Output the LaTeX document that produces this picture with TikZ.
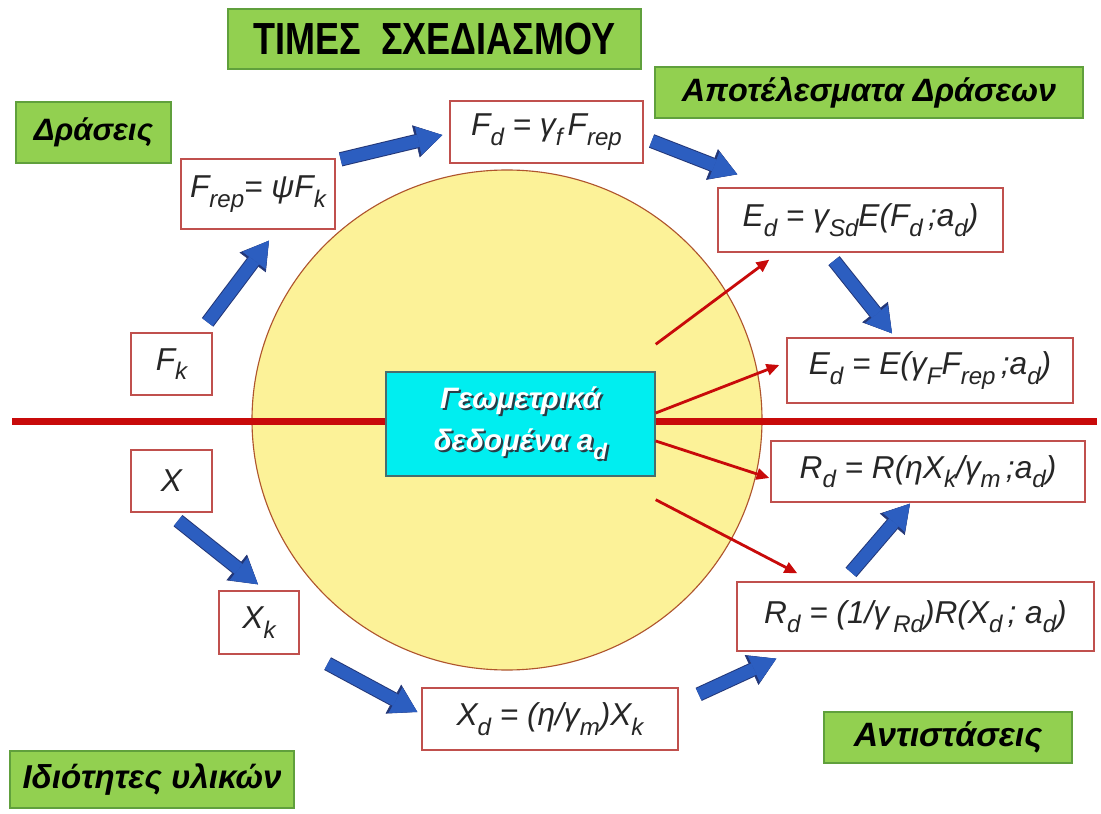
\documentclass[tikz,border=0pt]{standalone}
\usepackage{fontspec}
\usepackage{graphicx}
\setmainfont{Liberation Sans}
\newfontfamily\narrowfont[FakeStretch=0.8]{Liberation Sans}
\usetikzlibrary{arrows.meta,calc}

\definecolor{tagGreen}{RGB}{146,208,80}
\definecolor{tagEdge}{RGB}{96,160,60}
\definecolor{boxEdge}{RGB}{192,80,77}
\definecolor{ringFill}{RGB}{252,242,152}
\definecolor{ringEdge}{RGB}{175,85,45}
\definecolor{geoFill}{RGB}{0,238,240}
\definecolor{geoEdge}{RGB}{70,110,110}
\definecolor{geoShade}{RGB}{40,60,70}
\definecolor{flowBlue}{RGB}{44,94,192}
\definecolor{flowEdge}{RGB}{35,55,120}
\definecolor{axisRed}{RGB}{200,10,10}

\newcommand\lo[1]{\raisebox{-0.3em}{\scalebox{0.76}{#1}}}
\newcommand\geotext[1]{\makebox[0pt][l]{\kern1.5pt\raisebox{-1.5pt}{\textcolor{geoShade}{#1}}}#1}

\begin{document}
\begin{tikzpicture}[x=0.025cm, y=-0.025cm,
  tag/.style={rectangle, draw=tagEdge, line width=1.2pt, fill=tagGreen, inner sep=0pt, font=\fontsize{23}{27}\selectfont\bfseries\itshape},
  formula/.style={rectangle, draw=boxEdge, line width=0.9pt, fill=white, inner sep=0pt, text=black!85, font=\fontsize{22.5}{26}\selectfont\itshape},
  geo/.style={rectangle, draw=geoEdge, line width=1pt, fill=geoFill, inner sep=0pt, align=center, text=white, font=\fontsize{21}{30}\selectfont\bfseries\itshape},
  flow/.style={draw=flowBlue, line width=0.31cm, -{Triangle[length=0.62cm, width=0.72cm, line width=0.4pt]},
    preaction={draw=flowEdge, line width=0.36cm, -{Triangle[length=0.68cm, width=0.82cm, line width=0.4pt]}}},
  ray/.style={draw=axisRed, line width=2pt, -{Triangle[length=0.32cm, width=0.28cm]}},
  axis/.style={draw=axisRed, line width=0.18cm},
]
\useasboundingbox[fill=white] (0,0) rectangle (1101,814);

% ring and axis
\draw[fill=ringFill, draw=ringEdge, line width=0.8pt] (507,420) ellipse [x radius=255, y radius=250];
\coordinate (axisL) at (12,421.5);
\coordinate (axisR) at (1097,421.5);
\draw[axis] (axisL) -- (axisR);
\node[geo, minimum width=6.725cm, minimum height=2.6cm] (geo) at (520.5,424) {\geotext{Γεωμετρικά}\\\geotext{δεδομένα a\lo{d}}};

% values
\node[formula, minimum width=2.025cm, minimum height=1.55cm] (Fk) at (171.5,364) {F\lo{k}};
\node[formula, minimum width=3.85cm, minimum height=1.75cm] (Frep) at (258,194) {F\lo{rep}= ψF\lo{k}};
\node[formula, minimum width=4.825cm, minimum height=1.55cm] (Fd) at (546.5,132) {F\lo{d} = γ\lo{f}\,F\lo{rep}};
\node[formula, minimum width=7.125cm, minimum height=1.6cm] (Ed1) at (860.5,220) {E\lo{d} = γ\lo{Sd}E(F\lo{d}\,;a\lo{d})};
\node[formula, minimum width=7.15cm, minimum height=1.625cm] (Ed2) at (930,370.5) {E\lo{d} = E(γ\lo{F}F\lo{rep}\,;a\lo{d})};
\node[formula, minimum width=7.85cm, minimum height=1.525cm] (Rd1) at (928,471.5) {R\lo{d} = R(ηX\lo{k}/γ\lo{m}\,;a\lo{d})};
\node[formula, minimum width=8.925cm, minimum height=1.725cm] (Rd2) at (915.5,616.5) {R\lo{d} = (1/γ\lo{\,Rd})R(X\lo{d}\,; a\lo{d})};
\node[formula, minimum width=6.4cm, minimum height=1.55cm] (Xd) at (550,719) {X\lo{d} = (η/γ\lo{m})X\lo{k}};
\node[formula, minimum width=2.0cm, minimum height=1.575cm] (Xk) at (259,622.5) {X\lo{k}};
\node[formula, minimum width=2.025cm, minimum height=1.55cm] (X) at (171.5,481) {X};

% labels
\node[tag, minimum width=10.325cm, minimum height=1.5cm, font=\fontsize{32}{36}\selectfont\bfseries\narrowfont] (title) at (434.5,39) {ΤΙΜΕΣ~~ΣΧΕΔΙΑΣΜΟΥ};
\node[tag, minimum width=10.7cm, minimum height=1.275cm] (effects) at (869,92.5) {Αποτέλεσματα Δράσεων};
\node[tag, minimum width=3.875cm, minimum height=1.525cm, font=\fontsize{22}{26}\selectfont\bfseries\itshape] (actions) at (93.5,132.5) {Δράσεις};
\node[tag, minimum width=6.2cm, minimum height=1.275cm, font=\fontsize{24}{28}\selectfont\bfseries\itshape] (resist) at (948,737.5) {Αντιστάσεις};
\node[tag, minimum width=7.1cm, minimum height=1.425cm, font=\fontsize{23.5}{28}\selectfont\bfseries\itshape] (material) at (152,779.5) {Ιδιότητες υλικών};

% geometric data to results
\draw[ray] ($(geo.north east)+(0,-27)$) -- ($(Ed1.south west)+(52,7)$);
\draw[ray] ($(geo.east)+(0,-11)$) -- ($(Ed2.west)+(-7,-5.5)$);
\draw[ray] ($(geo.east)+(0,17)$) -- ($(Rd1.west)+(-1,6.5)$);
\draw[ray] ($(geo.south east)+(0,23)$) -- ($(Rd2.north west)+(61,-8)$);

% flow of values
\draw[flow] ($(Fk.north east)+(-5,-10)$) -- ($(Frep.south)+(11,11)$);
\draw[flow] ($(Frep.north east)+(5,1)$) -- ($(Fd.west)+(-7,3)$);
\draw[flow] ($(Fd.east)+(8,9)$) -- ($(Ed1.north west)+(20,-13)$);
\draw[flow] ($(Ed1.south)+(-26.5,8)$) -- ($(Ed2.north)+(-38,-4)$);
\draw[flow] ($(X.south)+(6.5,8)$) -- ($(Xk.north)+(-1,-6)$);
\draw[flow] ($(Xk.south east)+(28,9)$) -- ($(Xd.west)+(-4,-7)$);
\draw[flow] ($(Xd.north east)+(20,7)$) -- ($(Rd2.south west)+(40,7)$);
\draw[flow] ($(Rd2.north)+(-64.5,-9)$) -- ($(Rd1.south)+(-18,1)$);
\end{tikzpicture}
\end{document}
